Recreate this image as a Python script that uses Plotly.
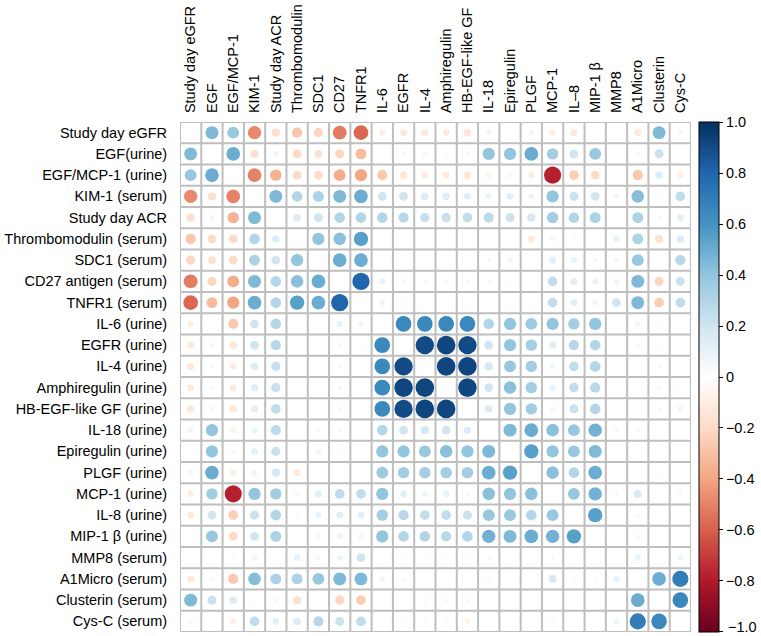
import plotly.graph_objects as go

row_labels = ["Study day eGFR", "EGF(urine)", "EGF/MCP-1 (urine)", "KIM-1 (serum)", "Study day ACR",
              "Thrombomodulin (serum)", "SDC1 (serum)", "CD27 antigen (serum)", "TNFR1 (serum)",
              "IL-6 (urine)", "EGFR (urine)", "IL-4 (urine)", "Amphiregulin (urine)", "HB-EGF-like GF (urine)",
              "IL-18 (urine)", "Epiregulin (urine)", "PLGF (urine)", "MCP-1 (urine)", "IL-8 (urine)",
              "MIP-1 β (urine)", "MMP8 (serum)", "A1Micro (serum)", "Clusterin (serum)", "Cys-C (serum)"]
col_labels = ["Study day eGFR", "EGF", "EGF/MCP-1", "KIM-1", "Study day ACR", "Thrombomodulin", "SDC1",
              "CD27", "TNFR1", "IL-6", "EGFR", "IL-4", "Amphiregulin", "HB-EGF-like GF", "IL-18",
              "Epiregulin", "PLGF", "MCP-1", "IL–8", "MIP-1 β", "MMP8", "A1Micro", "Clusterin", "Cys-C"]

N = None
r01 = [N, 0.45, 0.38, -0.48, -0.18, -0.28, -0.22, -0.52, -0.58, -0.1, -0.13, -0.13, -0.12, -0.14, 0.07, 0.02, 0.07, -0.1, -0.13, 0.02, 0.01, -0.13, 0.45, 0.06]
r02 = [0.45, N, 0.5, -0.18, -0.07, -0.2, -0.16, -0.22, -0.32, 0, -0.06, -0.06, -0.04, -0.06, 0.4, 0.4, 0.5, 0.35, 0.2, 0.38, 0, -0.05, 0.22, 0.01]
r03 = [0.38, 0.5, N, -0.5, -0.35, -0.2, -0.2, -0.37, -0.4, -0.27, -0.14, -0.11, -0.12, -0.14, -0.08, -0.06, -0.1, -0.78, -0.25, -0.2, -0.04, -0.27, 0.15, -0.09]
r04 = [-0.48, -0.18, -0.5, N, 0.45, 0.3, 0.32, 0.45, 0.5, 0.2, 0.2, 0.15, 0.14, 0.13, 0.09, 0.12, 0.08, 0.4, 0.22, 0.2, 0.07, 0.43, -0.03, 0.25]
r05 = [-0.18, -0.07, -0.35, 0.45, N, 0.15, 0.2, 0.3, 0.3, 0.3, 0.28, 0.23, 0.23, 0.25, 0.27, 0.22, 0.18, 0.35, 0.3, 0.32, 0.02, 0.32, -0.05, 0.12]
r06 = [-0.28, -0.2, -0.2, 0.3, 0.15, N, 0.4, 0.42, 0.55, 0.02, 0.02, 0.01, 0.02, 0.02, 0, 0.02, -0.12, 0.06, 0.04, 0.02, 0.1, 0.32, -0.17, 0.15]
r07 = [-0.22, -0.16, -0.2, 0.32, 0.2, 0.4, N, 0.5, 0.5, 0.02, 0.01, 0, 0.01, 0, 0.05, 0.08, -0.02, 0.12, 0.1, 0.06, 0.06, 0.38, -0.02, 0.28]
r08 = [-0.52, -0.22, -0.37, 0.45, 0.3, 0.42, 0.5, N, 0.8, 0.1, 0.06, 0.05, 0.06, 0.06, 0.05, 0.03, 0.01, 0.25, 0.13, 0.09, 0.08, 0.45, -0.22, 0.22]
r09 = [-0.58, -0.32, -0.4, 0.5, 0.3, 0.55, 0.5, 0.8, N, 0.07, 0.03, 0.02, 0.02, 0.02, 0.02, 0.01, -0.03, 0.25, 0.13, 0.07, 0.2, 0.45, -0.25, 0.25]
r10 = [-0.1, 0, -0.27, 0.2, 0.3, 0.02, 0.02, 0.1, 0.07, N, 0.65, 0.65, 0.65, 0.65, 0.3, 0.4, 0.37, 0.4, 0.35, 0.4, 0.01, 0.08, -0.03, 0.01]
r11 = [-0.13, -0.06, -0.14, 0.2, 0.28, 0.02, 0.01, 0.06, 0.03, 0.65, N, 0.9, 0.92, 0.9, 0.2, 0.4, 0.35, 0.13, 0.28, 0.3, -0.03, 0.05, -0.03, -0.03]
r12 = [-0.13, -0.06, -0.11, 0.15, 0.23, 0.01, 0, 0.05, 0.02, 0.65, 0.9, N, 0.92, 0.92, 0.18, 0.38, 0.35, 0.08, 0.25, 0.3, -0.03, 0.01, -0.05, -0.04]
r13 = [-0.12, -0.04, -0.12, 0.14, 0.23, 0.02, 0.01, 0.06, 0.02, 0.65, 0.92, 0.92, N, 0.92, 0.2, 0.42, 0.35, 0.1, 0.25, 0.28, -0.03, 0.01, -0.05, -0.04]
r14 = [-0.14, -0.06, -0.14, 0.13, 0.25, 0.02, 0, 0.06, 0.02, 0.65, 0.9, 0.92, 0.92, N, 0.15, 0.4, 0.35, 0.06, 0.22, 0.3, -0.03, 0.01, -0.05, -0.07]
r15 = [0.07, 0.4, -0.08, 0.09, 0.27, 0, 0.05, 0.05, 0.02, 0.3, 0.2, 0.18, 0.2, 0.15, N, 0.45, 0.5, 0.42, 0.38, 0.48, 0.05, 0.05, 0.02, 0.01]
r16 = [0.02, 0.4, -0.06, 0.12, 0.22, 0.02, 0.08, 0.03, 0.01, 0.4, 0.4, 0.38, 0.42, 0.4, 0.45, N, 0.55, 0.4, 0.38, 0.45, 0.01, 0.01, 0.01, 0.01]
r17 = [0.07, 0.5, -0.1, 0.08, 0.18, -0.12, -0.02, 0.01, -0.03, 0.37, 0.35, 0.35, 0.35, 0.35, 0.5, 0.55, N, 0.42, 0.3, 0.5, 0.01, 0.01, 0.03, 0.01]
r18 = [-0.1, 0.35, -0.78, 0.4, 0.35, 0.06, 0.12, 0.25, 0.25, 0.4, 0.13, 0.08, 0.1, 0.06, 0.42, 0.4, 0.42, N, 0.38, 0.48, 0.05, 0.17, 0, 0.05]
r19 = [-0.13, 0.2, -0.25, 0.22, 0.3, 0.04, 0.1, 0.13, 0.13, 0.35, 0.28, 0.25, 0.25, 0.22, 0.38, 0.38, 0.3, 0.38, N, 0.55, 0.02, 0.05, -0.02, 0]
r20 = [0.02, 0.38, -0.2, 0.2, 0.32, 0.02, 0.06, 0.09, 0.07, 0.4, 0.3, 0.3, 0.28, 0.3, 0.48, 0.45, 0.5, 0.48, 0.55, N, -0.02, 0.05, 0, 0.01]
r21 = [0.01, 0, -0.04, 0.07, 0.02, 0.1, 0.06, 0.08, 0.2, 0.01, -0.03, -0.03, -0.03, -0.03, 0.05, 0.01, 0.01, 0.05, 0.02, -0.02, N, 0.1, 0.02, 0.08]
r22 = [-0.13, -0.05, -0.27, 0.43, 0.32, 0.32, 0.38, 0.45, 0.45, 0.08, 0.05, 0.01, 0.01, 0.01, 0.05, 0.01, 0.01, 0.17, 0.05, 0.05, 0.1, N, 0.5, 0.7]
r23 = [0.45, 0.22, 0.15, -0.03, -0.05, -0.17, -0.02, -0.22, -0.25, -0.03, -0.03, -0.05, -0.05, -0.05, 0.02, 0.01, 0.03, 0, -0.02, 0, 0.02, 0.5, N, 0.65]
r24 = [0.06, 0.01, -0.09, 0.25, 0.12, 0.15, 0.28, 0.22, 0.25, 0.01, -0.03, -0.04, -0.04, -0.07, 0.01, 0.01, 0.01, 0.05, 0, 0.01, 0.08, 0.7, 0.65, N]

matrix = [r01, r02, r03, r04, r05, r06, r07, r08, r09, r10, r11, r12,
          r13, r14, r15, r16, r17, r18, r19, r20, r21, r22, r23, r24]

cbar_vals = [1.0, 0.8, 0.6, 0.4, 0.2, 0.0, -0.2, -0.4, -0.6, -0.8, -1.0]
cbar_text = ["1.0", "0.8", "0.6", "0.4", "0.2", "0", "\u22120.2", "\u22120.4", "\u22120.6", "\u22120.8", "\u22121.0"]

colorscale_hex = ["#67001F", "#B2182B", "#D6604D", "#F4A582", "#FDDBC7", "#FFFFFF",
                  "#D1E5F0", "#92C5DE", "#4393C3", "#2166AC", "#053061"]
colorscale = [[i / (len(colorscale_hex) - 1), c] for i, c in enumerate(colorscale_hex)]

nr, nc = len(row_labels), len(col_labels)

# plot area geometry (pixels)
W, H = 761, 636
ML, MT, PW, PH = 176, 117, 515, 515
cell = PW / nc
CB_LEFT, CB_THICK = 699, 20

xs, ys, vals, sizes = [], [], [], []
for i, row in enumerate(matrix):
    for j, v in enumerate(row):
        if v is None:
            continue
        xs.append(j)
        ys.append(i)
        vals.append(v)
        sizes.append(0.9 * cell * abs(v) ** 0.5)

FONT = "Liberation Sans, Arial, Helvetica, sans-serif"
FS = 14.5

# the bottom-most colorbar label is dropped by plotly (it overflows the page), draw it as text
cb_ticktext = cbar_text[:-1] + [""]

fig = go.Figure()
fig.add_trace(go.Scatter(
    x=xs, y=ys, mode="markers",
    marker=dict(size=sizes, color=vals, colorscale=colorscale, cmin=-1.0005, cmax=1.0005,
                line=dict(width=0), opacity=1,
                colorbar=dict(x=(CB_LEFT - ML) / PW, xanchor="left", xpad=0,
                              y=0.5, yanchor="middle", len=1.0, lenmode="fraction", ypad=0,
                              thickness=CB_THICK, outlinewidth=1, outlinecolor="black",
                              tickmode="array", tickvals=cbar_vals, ticktext=cb_ticktext,
                              ticks="outside", ticklen=4, tickcolor="black", tickwidth=1,
                              tickfont=dict(family=FONT, size=FS, color="black"))),
    hovertemplate="%{marker.color:.2f}<extra></extra>",
    showlegend=False,
))

shapes = []
for k in range(nc + 1):
    shapes.append(dict(type="line", xref="x", yref="y", x0=k - 0.5, x1=k - 0.5,
                       y0=-0.5, y1=nr - 0.5, line=dict(color="#BEBEBE", width=2), layer="below"))
for k in range(nr + 1):
    shapes.append(dict(type="line", xref="x", yref="y", y0=k - 0.5, y1=k - 0.5,
                       x0=-0.5, x1=nc - 0.5, line=dict(color="#BEBEBE", width=2), layer="below"))

fig.update_layout(
    width=W, height=H,
    margin=dict(l=ML, r=W - ML - PW, t=MT, b=H - MT - PH, pad=0),
    paper_bgcolor="white", plot_bgcolor="white",
    shapes=shapes,
    font=dict(family=FONT, size=FS, color="black"),
    annotations=[dict(xref="paper", yref="paper",
                      x=(CB_LEFT + CB_THICK + 7 - ML) / PW, y=0,
                      xanchor="left", yanchor="middle", yshift=5, showarrow=False,
                      text=cbar_text[-1], font=dict(family=FONT, size=FS, color="black"))],
    xaxis=dict(range=[-0.5, nc - 0.5], side="top", tickmode="array",
               tickvals=list(range(nc)), ticktext=col_labels, tickangle=-90,
               showgrid=False, zeroline=False, showline=False,
               ticks="outside", ticklen=5, tickcolor="rgba(0,0,0,0)",
               tickfont=dict(family=FONT, size=FS, color="black"), fixedrange=True),
    yaxis=dict(range=[nr - 0.5, -0.5], tickmode="array",
               tickvals=list(range(nr)), ticktext=row_labels,
               showgrid=False, zeroline=False, showline=False,
               ticks="outside", ticklen=9, tickcolor="rgba(0,0,0,0)",
               tickfont=dict(family=FONT, size=FS, color="black"), fixedrange=True),
)

fig.write_html("out.html", config={"displayModeBar": False},
               post_script="document.body.style.margin='0';document.body.style.overflow='hidden';")
